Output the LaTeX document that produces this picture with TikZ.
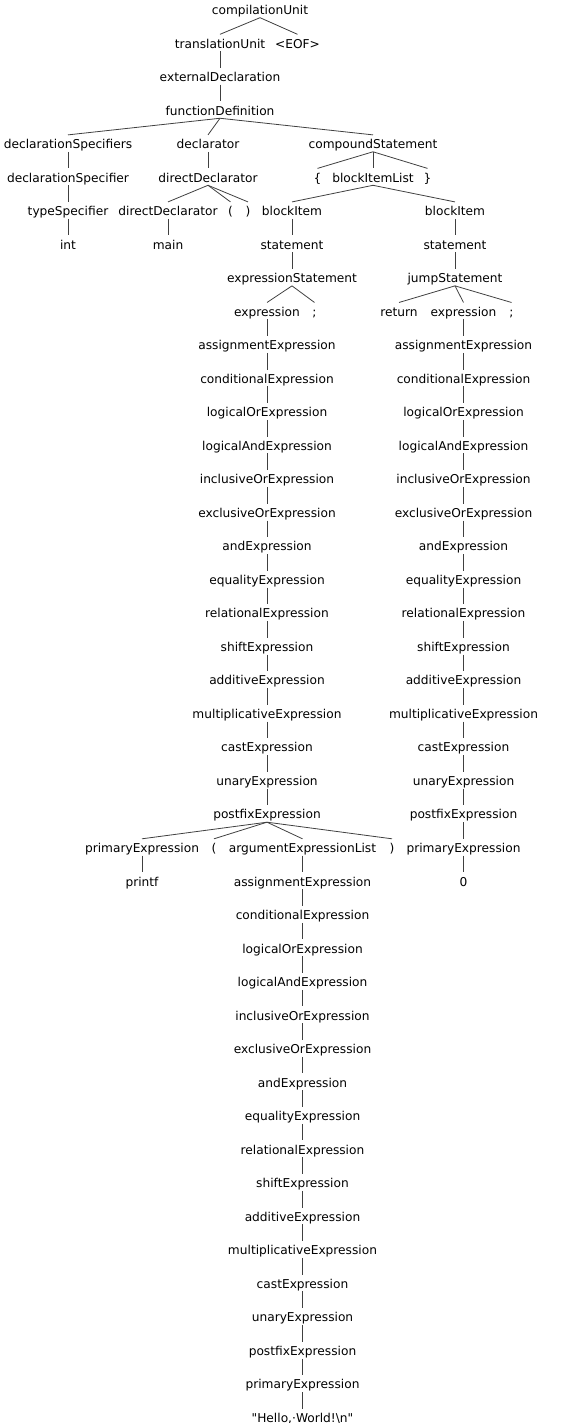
\documentclass[tikz,border=0pt]{standalone}
\usepackage{fontspec}
\setmainfont{DejaVu Sans}[Ligatures=TeXOff]
\definecolor{lc}{RGB}{64,64,64}
\begin{document}
\begin{tikzpicture}[x=1pt,y=-33.52pt,
  t/.style={inner sep=0pt,text height=13.5pt,text depth=3pt,anchor=base,font=\fontsize{12.2pt}{14pt}\selectfont},
  e/.style={draw=lc,line width=0.8pt}]
\useasboundingbox (0pt,0pt) rectangle (581pt,-1423pt);
\begin{scope}[yshift=-14.5pt]
\node[t] (cu) at (260,0) {compilationUnit};
\node[t] (tu) at (220,1) {translationUnit};
\node[t] (eof) at (297.5,1) {<EOF>};
\node[t] (ed) at (220,2) {externalDeclaration};
\node[t] (fd) at (220,3) {functionDefinition};
\node[t] (dss) at (68,4) {declarationSpecifiers};
\node[t] (decl) at (208,4) {declarator};
\node[t] (cs) at (373,4) {compoundStatement};
\node[t] (ds) at (68,5) {declarationSpecifier};
\node[t] (dd) at (208,5) {directDeclarator};
\node[t] (lb) at (317.5,5) {\{};
\node[t] (bil) at (373,5) {blockItemList};
\node[t] (rb) at (427.5,5) {\}};
\node[t] (ts) at (68,6) {typeSpecifier};
\node[t] (dd2) at (168,6) {directDeclarator};
\node[t] (lp) at (230.5,6) {(};
\node[t] (rp) at (248,6) {)};
\node[t] (bi1) at (292,6) {blockItem};
\node[t] (bi2) at (455,6) {blockItem};
\node[t] (int) at (68,7) {int};
\node[t] (main) at (168,7) {main};
\node[t] (st1) at (292,7) {statement};
\node[t] (st2) at (455,7) {statement};
\node[t] (es) at (292,8) {expressionStatement};
\node[t] (js) at (455,8) {jumpStatement};
\node[t] (ex1) at (267,9) {expression};
\node[t] (sc1) at (314.5,9) {;};
\node[t] (ret) at (399,9) {return};
\node[t] (ex2) at (463.5,9) {expression};
\node[t] (sc2) at (511.5,9) {;};
\foreach \lab [count=\i from 10] in {assignmentExpression,conditionalExpression,logicalOrExpression,logicalAndExpression,inclusiveOrExpression,exclusiveOrExpression,andExpression,equalityExpression,relationalExpression,shiftExpression,additiveExpression,multiplicativeExpression,castExpression,unaryExpression,postfixExpression}{
  \node[t] (L\i) at (267,\i) {\lab};
  \node[t] (R\i) at (463.5,\i) {\lab};
}
\node[t] (pe1) at (142,25) {primaryExpression};
\node[t] (lp2) at (214,25) {(};
\node[t] (ael) at (302.5,25) {argumentExpressionList};
\node[t] (rp2) at (392,25) {)};
\node[t] (pe2) at (463.5,25) {primaryExpression};
\node[t] (printf) at (142,26) {printf};
\node[t] (zero) at (463.5,26) {0};
\foreach \lab [count=\i from 26] in {assignmentExpression,conditionalExpression,logicalOrExpression,logicalAndExpression,inclusiveOrExpression,exclusiveOrExpression,andExpression,equalityExpression,relationalExpression,shiftExpression,additiveExpression,multiplicativeExpression,castExpression,unaryExpression,postfixExpression,primaryExpression}{
  \node[t] (B\i) at (302.5,\i) {\lab};
}
\node[t] (B42) at (302.5,42) {"Hello,·World!\textbackslash n"};
% edges
\foreach \p/\c in {cu/tu,cu/eof,tu/ed,ed/fd,fd/dss,fd/decl,fd/cs,dss/ds,ds/ts,ts/int,decl/dd,dd/dd2,dd/lp,dd/rp,dd2/main,cs/lb,cs/bil,cs/rb,bil/bi1,bil/bi2,bi1/st1,bi2/st2,st1/es,st2/js,es/ex1,es/sc1,js/ret,js/ex2,js/sc2,ex1/L10,ex2/R10,L24/pe1,L24/lp2,L24/ael,L24/rp2,R24/pe2,pe1/printf,ael/B26,pe2/zero}
  \draw[e] (\p.south) -- (\c.north);
\foreach \i [evaluate=\i as \j using int(\i-1)] in {11,...,24}{
  \draw[e] (L\j.south) -- (L\i.north);
  \draw[e] (R\j.south) -- (R\i.north);
}
\foreach \i [evaluate=\i as \j using int(\i-1)] in {27,...,42}
  \draw[e] (B\j.south) -- (B\i.north);
\end{scope}
\end{tikzpicture}
\end{document}
